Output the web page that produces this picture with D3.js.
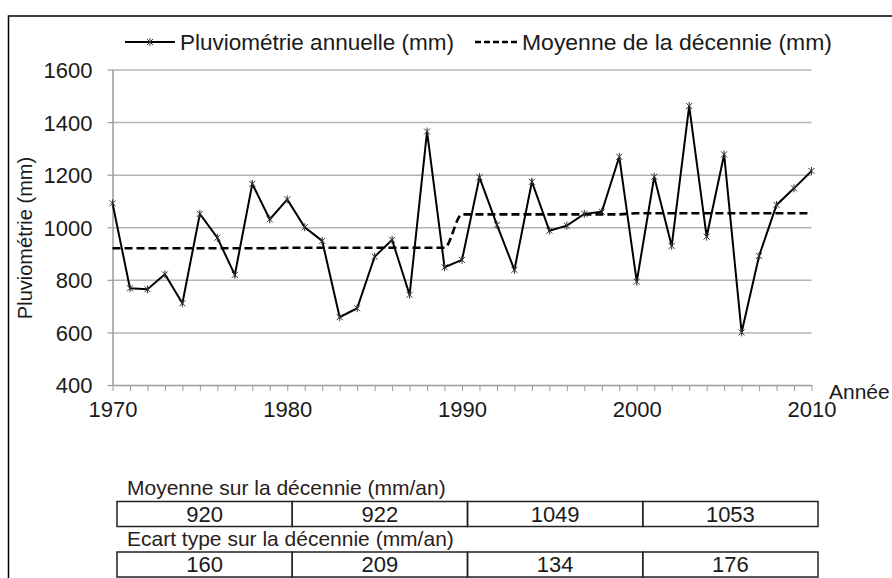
<!DOCTYPE html>
<html><head><meta charset="utf-8">
<script src="https://cdn.jsdelivr.net/npm/d3@7"></script>
<style>
html,body{margin:0;padding:0;background:#fff;}
svg{display:block;font-family:Arial,"Liberation Sans",sans-serif;}
</style></head>
<body><svg id="c" width="892" height="578"></svg>
<script>
const years = [1970,1971,1972,1973,1974,1975,1976,1977,1978,1979,
  1980,1981,1982,1983,1984,1985,1986,1987,1988,1989,
  1990,1991,1992,1993,1994,1995,1996,1997,1998,1999,
  2000,2001,2002,2003,2004,2005,2006,2007,2008,2009,2010];
const rainfall = [1091,768,764,821,711,1051,960,819,1165,1030,
  1106,1000,948,658,692,888,952,743,1364,848,
  876,1190,1009,838,1173,987,1006,1051,1059,1268,
  793,1192,929,1461,964,1277,600,891,1085,1148,1214];
const decadeStarts = [1970,1980,1990,2000];
const decadeMeans = [920,922,1049,1053];
const decadeStd = [160,209,134,176];
const yTicks = [400,600,800,1000,1200,1400,1600];
const xLabelYears = [1970,1980,1990,2000,2010];
const legendLabels = ["Pluviométrie annuelle (mm)","Moyenne de la décennie (mm)"];
const yTitle = "Pluviométrie (mm)";
const xTitle = "Année";
const tableTitles = ["Moyenne sur la décennie (mm/an)","Ecart type sur la décennie (mm/an)"];

const svg = d3.select("#c");
const x = d3.scaleLinear().domain([1970,2010]).range([112.5,811.5]);
const y = d3.scaleLinear().domain([400,1600]).range([385,69.5]);

// outer border
svg.append("rect").attr("x",8.5).attr("y",16).attr("width",900).attr("height",600)
  .attr("fill","#fff").attr("stroke","#000").attr("stroke-width",1.5);

// gridlines
const grid = svg.append("g").attr("transform","translate(112.5,0)")
  .call(d3.axisLeft(y).tickValues(yTicks.slice(1)).tickSize(-699).tickFormat(""));
grid.select(".domain").remove();
grid.selectAll("line").attr("stroke","#b4b4b4").attr("stroke-width",1.5);

// y axis
const ya = svg.append("g").attr("transform","translate(112.5,0)")
  .call(d3.axisLeft(y).tickValues(yTicks).tickSize(5).tickPadding(15).tickSizeOuter(0).tickFormat(d3.format("d")));
ya.select(".domain").attr("stroke","#9a9a9a").attr("stroke-width",1.5);
ya.selectAll("line").attr("stroke","#9a9a9a").attr("stroke-width",1.2);
ya.selectAll("text").attr("font-size",22).attr("fill","#1a1a1a")
  .attr("font-family","Arial,'Liberation Sans',sans-serif").attr("dy","0.36em");

// x axis minor ticks
const xa = svg.append("g").attr("transform","translate(0,385)")
  .call(d3.axisBottom(x).tickValues(years).tickSize(6).tickFormat("").tickSizeOuter(0));
xa.select(".domain").attr("stroke","#9a9a9a").attr("stroke-width",1.5);
xa.selectAll("line").attr("stroke","#9a9a9a").attr("stroke-width",1);
// x labels
const xl = svg.append("g").attr("transform","translate(0,385)")
  .call(d3.axisBottom(x).tickValues(xLabelYears).tickSize(0).tickPadding(16).tickFormat(d3.format("d")));
xl.select(".domain").remove();
xl.selectAll("text").attr("font-size",22).attr("fill","#1a1a1a")
  .attr("font-family","Arial,'Liberation Sans',sans-serif");

// axis titles
svg.append("text").attr("transform","translate(32,238) rotate(-90)")
  .attr("text-anchor","middle").attr("font-size",20).attr("fill","#1a1a1a").text(yTitle);
svg.append("text").attr("x",829).attr("y",399).attr("font-size",21).attr("fill","#1a1a1a").text(xTitle);

// mean series per year
const meanSeries = years.map(yr => {
  let i = decadeStarts.length-1;
  while (i > 0 && yr < decadeStarts[i]) i--;
  return decadeMeans[i];
});

const dashLine = d3.line().x((d,i)=>x(years[i])).y(d=>y(d)).curve(d3.curveMonotoneX);
svg.append("path").datum(meanSeries).attr("d",dashLine).attr("fill","none")
  .attr("stroke","#000").attr("stroke-width",2.6).attr("stroke-dasharray","8,4");

const line = d3.line().x((d,i)=>x(years[i])).y(d=>y(d));
svg.append("path").datum(rainfall).attr("d",line).attr("fill","none")
  .attr("stroke","#000").attr("stroke-width",2).attr("stroke-linejoin","miter");

const star = "M-3,-3L3,3M-3,3L3,-3M0,-4L0,4";
svg.append("g").selectAll("path").data(rainfall).join("path")
  .attr("transform",(d,i)=>`translate(${x(years[i])},${y(d)})`)
  .attr("d",star).attr("stroke","#333").attr("stroke-width",1).attr("fill","none");

// legend
const lg = svg.append("g");
lg.append("line").attr("x1",125).attr("x2",175).attr("y1",42).attr("y2",42)
  .attr("stroke","#000").attr("stroke-width",1.8);
lg.append("path").attr("transform","translate(150,42)").attr("d",star)
  .attr("stroke","#333").attr("stroke-width",1);
lg.append("text").attr("x",180).attr("y",50).attr("font-size",22).attr("fill","#1a1a1a")
  .attr("textLength",274).attr("lengthAdjust","spacingAndGlyphs").text(legendLabels[0]);
lg.append("line").attr("x1",475).attr("x2",520).attr("y1",42).attr("y2",42)
  .attr("stroke","#000").attr("stroke-width",2.4).attr("stroke-dasharray","6,3");
lg.append("text").attr("x",522).attr("y",50).attr("font-size",22).attr("fill","#1a1a1a")
  .attr("textLength",310).attr("lengthAdjust","spacingAndGlyphs").text(legendLabels[1]);

// table
const tx = d3.scaleBand().domain(decadeStarts).range([117,818]);
const rows = [{title:tableTitles[0], vals:decadeMeans, tb:495, top:501.5},
              {title:tableTitles[1], vals:decadeStd, tb:546, top:552}];
rows.forEach(r => {
  svg.append("text").attr("x",127).attr("y",r.tb).attr("font-size",21)
    .attr("fill","#2b2020").text(r.title);
  const g = svg.append("g");
  g.selectAll("rect").data(r.vals).join("rect")
    .attr("x",(d,i)=>tx(decadeStarts[i])).attr("y",r.top)
    .attr("width",tx.bandwidth()).attr("height",25)
    .attr("fill","none").attr("stroke","#222").attr("stroke-width",1.5);
  g.selectAll("text").data(r.vals).join("text")
    .attr("x",(d,i)=>tx(decadeStarts[i])+tx.bandwidth()/2).attr("y",r.top+20)
    .attr("text-anchor","middle").attr("font-size",22).attr("fill","#1a1a1a").text(d=>d);
});
</script></body></html>
